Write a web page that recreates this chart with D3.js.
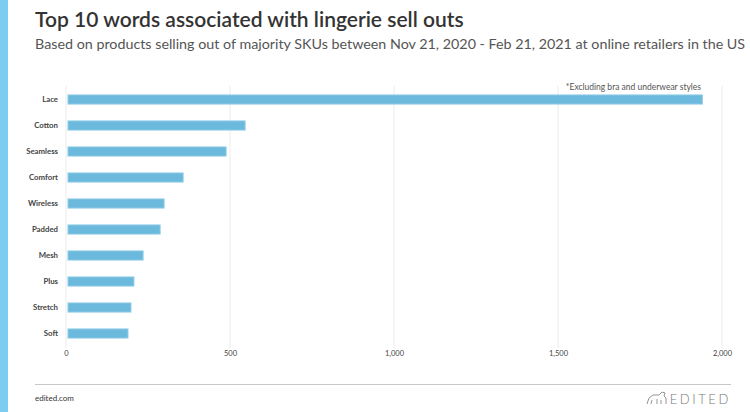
<!DOCTYPE html>
<html><head><meta charset="utf-8">
<script src="https://cdn.jsdelivr.net/npm/d3@7"></script>
<style>
html,body{margin:0;padding:0;background:#fff;}
svg{display:block;font-family:Lato,"Open Sans",sans-serif;}
</style></head>
<body>
<svg id="c" width="750" height="412"></svg>
<script>
const categories = ["Lace","Cotton","Seamless","Comfort","Wireless","Padded","Mesh","Plus","Stretch","Soft"];
const values = [1940, 546, 488, 357, 299, 287, 235, 207, 198, 189];
const tickValues = [0, 500, 1000, 1500, 2000];

const svg = d3.select("#c");
svg.append("rect").attr("x",0).attr("y",0).attr("width",8).attr("height",412).attr("fill","#7ccdf0");

svg.append("text").attr("x",35).attr("y",27).attr("font-size",21).attr("font-weight",600)
  .attr("fill","#333").text("Top 10 words associated with lingerie sell outs");
svg.append("text").attr("x",35).attr("y",48.5).attr("font-size",14.3).attr("fill","#555")
  .text("Based on products selling out of majority SKUs between Nov 21, 2020 - Feb 21, 2021 at online retailers in the US");

const x = d3.scaleLinear().domain([0,2000]).range([66,722]);
const y = d3.scaleBand().domain(categories).range([86.5,346.5]).paddingInner(0.65).paddingOuter(0.325);

const g = svg.append("g");
g.selectAll("line.grid").data(tickValues).join("line")
  .attr("x1",d=>x(d)).attr("x2",d=>x(d)).attr("y1",86).attr("y2",348)
  .attr("stroke","#ececec").attr("stroke-width",1);

g.selectAll("rect.bar").data(values).join("rect")
  .attr("x",x(0)+2).attr("y",(d,i)=>y(categories[i]))
  .attr("width",d=>x(d)-x(0)-2).attr("height",y.bandwidth())
  .attr("fill","#6bb9dc").attr("stroke","#8fcbe6").attr("stroke-width",1);

const yAxis = d3.axisLeft(y).tickSize(0).tickPadding(0);
const ya = svg.append("g").attr("transform","translate(58,0)").call(yAxis);
ya.select(".domain").remove();
ya.selectAll("text").attr("font-size",7.8).attr("font-weight",700).attr("fill","#444")
  .attr("font-family","Lato,sans-serif");

const xAxis = d3.axisBottom(x).tickValues(tickValues).tickSize(0).tickPadding(0).tickFormat(d3.format(","));
const xa = svg.append("g").attr("transform","translate(0,351)").call(xAxis);
xa.select(".domain").remove();
xa.selectAll("text").attr("font-size",7.5).attr("fill","#444").attr("font-family","Lato,sans-serif");

svg.append("text").attr("x",701).attr("y",90).attr("text-anchor","end").attr("font-size",8.5)
  .attr("fill","#555").text("*Excluding bra and underwear styles");

svg.append("line").attr("x1",35).attr("x2",731).attr("y1",384.5).attr("y2",384.5).attr("stroke","#c8c8c8").attr("stroke-width",1);
svg.append("text").attr("x",35).attr("y",401).attr("font-size",8).attr("fill","#333").text("edited.com");
svg.append("text").attr("x",731).attr("y",404).attr("text-anchor","end").attr("font-size",13)
  .attr("letter-spacing",2.6).attr("fill","#777").attr("font-weight",300).text("EDITED");
svg.append("path").attr("d","M647,404 l2,-6 l4,-3 l6,0 l3,-3 l3,1 l-1,3 l2,2 l0,6 M651,404 l1,-4 M657,404 l0,-5 M661,404 l0,-4")
  .attr("fill","none").attr("stroke","#888").attr("stroke-width",0.9);
</script>
</body></html>
